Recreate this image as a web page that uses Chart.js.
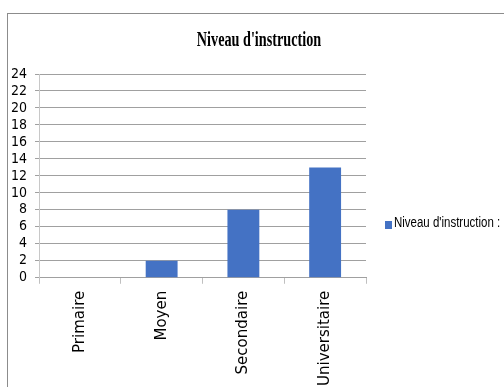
<!DOCTYPE html>
<html>
<head>
<meta charset="utf-8">
<script src="https://cdn.jsdelivr.net/npm/chart.js@4.4.1/dist/chart.umd.min.js"></script>
<style>
  body { margin: 0; background: #fff; }
  #frame { position: absolute; left: 7px; top: 13px; width: 510px; height: 400px; border: 1px solid #8c8c8c; }
  #chart { position: absolute; left: 0; top: 0; }
  #title {
    position: absolute; left: 159px; top: 28px; width: 200px; line-height: 20px;
    text-align: center; white-space: nowrap;
    font: bold 20px 'Liberation Serif', serif; color: #000;
    transform: scaleX(0.71); transform-origin: 50% 0;
  }
  #legend { position: absolute; left: 385px; top: 214px; white-space: nowrap; }
  #legend .box { position: absolute; left: 0; top: 7px; width: 7px; height: 8px; }
  #legend .txt {
    position: absolute; left: 9px; top: 0; line-height: 20px;
    font: 14px 'Liberation Sans', sans-serif; color: #000;
    transform: scaleX(0.82); transform-origin: 0 0;
  }
</style>
</head>
<body>
<div id="frame"></div>
<canvas id="chart" width="504" height="387"></canvas>
<div id="title"></div>
<div id="legend"></div>
<script>
// données du graphique
const categories = ['Primaire', 'Moyen', 'Secondaire', 'Universitaire'];
const values = [0, 2, 8, 13];
const yTicks = [0, 2, 4, 6, 8, 10, 12, 14, 16, 18, 20, 22, 24];
const seriesLabel = "Niveau d'instruction :";
const chartTitle = "Niveau d'instruction";
const barColor = '#4472C4';

const ctx = document.getElementById('chart').getContext('2d');
const chart = new Chart(ctx, {
    type: 'bar',
    data: {
        labels: categories,
        datasets: [{
            label: seriesLabel,
            data: values,
            backgroundColor: barColor,
            borderWidth: 0,
            barPercentage: 0.39,
            categoryPercentage: 1
        }]
    },
    options: {
        responsive: false,
        animation: false,
        layout: { padding: { left: 3, right: 138, top: 74, bottom: 1 } },
        scales: {
            x: {
                offset: true,
                // la marge des étiquettes est comptée deux fois
                afterFit: scale => { scale.height -= 7; },
                grid: {
                    offset: true,
                    drawOnChartArea: false,
                    tickLength: 6,
                    color: '#c0c0c0'
                },
                border: { display: true, color: '#a0a0a0' },
                ticks: {
                    minRotation: 90,
                    maxRotation: 90,
                    padding: 7,
                    color: '#000',
                    font: { family: "'DejaVu Sans', sans-serif", size: 15 }
                }
            },
            y: {
                min: yTicks[0],
                max: yTicks[yTicks.length - 1],
                afterBuildTicks: scale => {
                    scale.ticks = yTicks.map(v => ({ value: v }));
                },
                ticks: {
                    autoSkip: false,
                    padding: 8,
                    color: '#000',
                    font: { family: "'DejaVu Sans Condensed', 'DejaVu Sans', sans-serif", size: 14, lineHeight: 1 }
                },
                grid: { color: '#a0a0a0', tickLength: 4 },
                border: { display: true, color: '#c8c8c8' }
            }
        },
        plugins: {
            title: { display: false },
            legend: { display: false },
            tooltip: { enabled: false }
        }
    }
});

// titre et légende en HTML
document.getElementById('title').textContent = chartTitle;
const ds = chart.data.datasets[0];
document.getElementById('legend').innerHTML =
    `<div class="box" style="background:${ds.backgroundColor}"></div><div class="txt">${ds.label}</div>`;
</script>
</body>
</html>
